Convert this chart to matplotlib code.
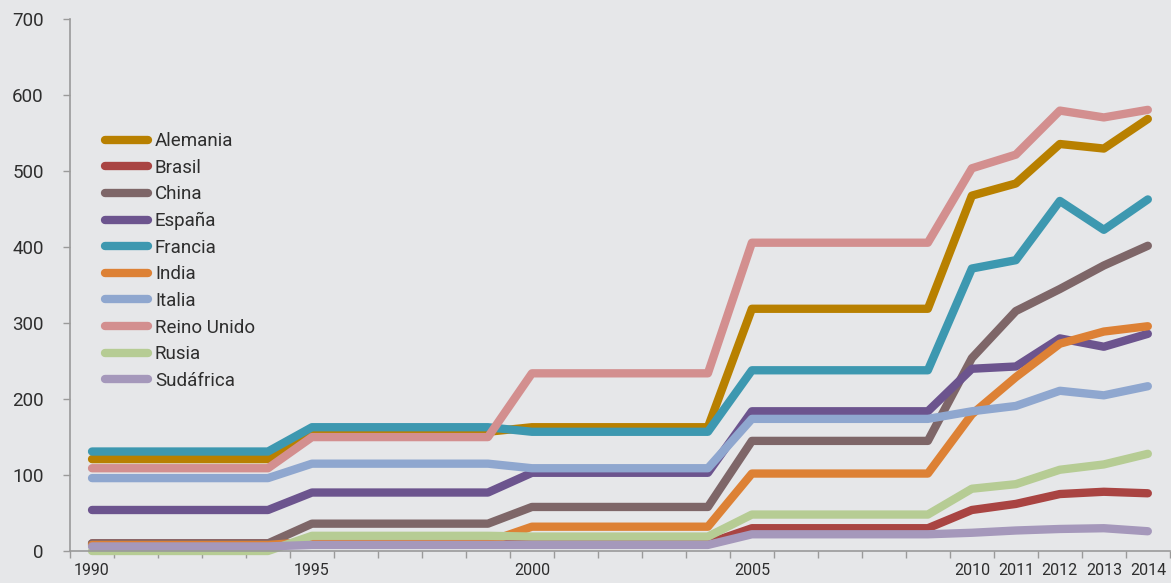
import matplotlib

matplotlib.use("Agg")
import matplotlib.pyplot as plt

# Años con dato (tramos planos entre cambios)
years = [1990, 1994, 1995, 1999, 2000, 2004, 2005, 2009, 2010, 2011, 2012, 2013, 2014]

alemania = [121, 121, 157, 157, 163, 163, 319, 319, 468, 484, 536, 530, 569]
brasil = [10, 10, 10, 10, 10, 10, 30, 30, 54, 62, 75, 78, 76]
china = [10, 10, 36, 36, 58, 58, 145, 145, 254, 316, 345, 376, 402]
espana = [54, 54, 77, 77, 103, 103, 184, 184, 240, 243, 280, 269, 286]
francia = [131, 131, 163, 163, 157, 157, 238, 238, 372, 383, 461, 423, 463]
india = [8, 8, 12, 12, 32, 32, 102, 102, 180, 229, 273, 289, 296]
italia = [96, 96, 115, 115, 109, 109, 174, 174, 184, 191, 211, 205, 217]
reino_unido = [109, 109, 150, 150, 234, 234, 406, 406, 504, 522, 580, 571, 581]
rusia = [0, 0, 20, 20, 19, 19, 48, 48, 82, 88, 107, 114, 128]
sudafrica = [6, 6, 8, 8, 8, 8, 22, 22, 24, 27, 29, 30, 26]

series = [
    ("Alemania", alemania, "#B88000"),
    ("Brasil", brasil, "#A94442"),
    ("China", china, "#7E6668"),
    ("España", espana, "#6C548E"),
    ("Francia", francia, "#3D98B0"),
    ("India", india, "#DD8135"),
    ("Italia", italia, "#8FA7CF"),
    ("Reino Unido", reino_unido, "#D38F8F"),
    ("Rusia", rusia, "#B6CC94"),
    ("Sudáfrica", sudafrica, "#A598BB"),
]

year_labels = [1990, 1995, 2000, 2005, 2010, 2011, 2012, 2013, 2014]
y_ticks = [0, 100, 200, 300, 400, 500, 600, 700]

bg = "#E6E7E9"
text_col = "#2E2E2E"
axis_col = "#9A9A9A"

plt.rcParams["font.family"] = ["Roboto", "DejaVu Sans"]

fig = plt.figure(figsize=(11.71, 5.83), dpi=100, facecolor=bg)
ax = fig.add_axes([0.0598, 0.0549, 0.9392, 0.9117], facecolor=bg)

for name, vals, col in series:
    ax.plot(years, vals, color=col, lw=6, label=name,
            solid_capstyle="round", solid_joinstyle="round", clip_on=False)

ax.set_xlim(1989.5, 2014.5)
ax.set_ylim(0, 700)

ax.set_xticks(year_labels)
ax.set_xticklabels([str(y) for y in year_labels])
ax.set_xticks([1989.5 + k for k in range(26)], minor=True)
ax.tick_params(axis="x", which="major", length=0, pad=9, labelsize=11.5,
               labelcolor=text_col)
ax.tick_params(axis="x", which="minor", length=5, width=1, color=axis_col)

ax.set_yticks(y_ticks)
ax.tick_params(axis="y", length=5, width=1, color=axis_col, pad=14,
               labelsize=13.5, labelcolor=text_col)

for s in ("top", "right"):
    ax.spines[s].set_visible(False)
for s in ("left", "bottom"):
    ax.spines[s].set_color(axis_col)
    ax.spines[s].set_linewidth(1.2)

leg = ax.legend(loc="upper left", bbox_to_anchor=(0.032, 0.788), frameon=False,
                fontsize=13.5, handlelength=2.3, handletextpad=0.35,
                labelspacing=0.46, borderpad=0, borderaxespad=0)
for t in leg.get_texts():
    t.set_color(text_col)
for h in leg.get_lines():
    h.set_linewidth(6)
    h.set_solid_capstyle("round")

fig.savefig("out.png", dpi=100, facecolor=bg)
